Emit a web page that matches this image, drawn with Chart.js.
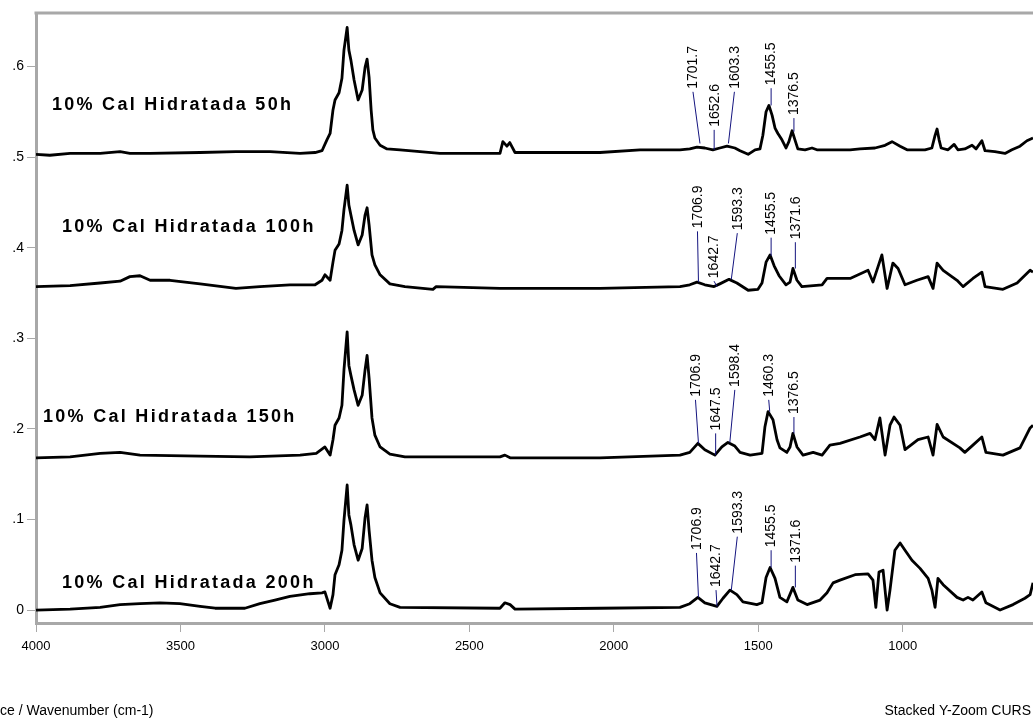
<!DOCTYPE html>
<html>
<head>
<meta charset="utf-8">
<script src="https://cdn.jsdelivr.net/npm/chart.js@4.4.1/dist/chart.umd.min.js"></script>
<style>
  html, body { margin: 0; padding: 0; background: #fff; }
  #wrap { width: 1033px; height: 727px; position: relative; }
</style>
</head>
<body>
<div id="wrap"><canvas id="c"></canvas></div>
<script>
// spectra: wavenumber (cm-1) / absorbance, stacked
const seriesNames = ['10% Cal Hidratada 50h', '10% Cal Hidratada 100h', '10% Cal Hidratada 150h', '10% Cal Hidratada 200h'];

const wn50 = [4000,3952,3882,3778,3709,3675,3605,3432,3308,3190,3086,3034,3010,2993,2982,2972,2965,2951,2941,2934,2923,2917,2910,2899,2885,2871,2861,2854,2847,2840,2834,2827,2809,2785,2740,2602,2394,2384,2370,2360,2342,2048,1909,1771,1737,1712,1685,1657,1633,1608,1581,1563,1535,1511,1494,1484,1473,1463,1452,1442,1432,1418,1404,1394,1383,1373,1363,1338,1314,1297,1182,1148,1096,1061,1037,1009,985,923,899,888,881,874,867,843,822,809,785,760,746,726,715,681,646,622,594,570,549];
const abs50 = [0.503,0.502,0.504,0.504,0.506,0.504,0.504,0.505,0.506,0.506,0.504,0.505,0.507,0.519,0.526,0.552,0.563,0.571,0.587,0.618,0.643,0.618,0.607,0.585,0.563,0.574,0.599,0.608,0.588,0.552,0.530,0.521,0.513,0.509,0.508,0.504,0.504,0.517,0.512,0.516,0.505,0.505,0.508,0.508,0.509,0.511,0.510,0.508,0.510,0.512,0.510,0.507,0.503,0.508,0.509,0.524,0.550,0.557,0.546,0.532,0.526,0.519,0.510,0.517,0.529,0.519,0.509,0.508,0.510,0.508,0.508,0.509,0.510,0.513,0.517,0.512,0.508,0.508,0.510,0.524,0.531,0.519,0.510,0.508,0.514,0.508,0.509,0.513,0.509,0.518,0.507,0.506,0.504,0.508,0.512,0.518,0.521];

const wn100 = [4000,3882,3778,3709,3675,3640,3605,3536,3432,3308,3225,3121,3034,3010,3000,2982,2972,2965,2951,2941,2934,2923,2917,2910,2899,2885,2871,2861,2854,2847,2837,2827,2809,2775,2723,2626,2615,2394,2048,1771,1737,1712,1685,1653,1633,1601,1574,1535,1501,1487,1473,1459,1445,1428,1404,1390,1380,1366,1349,1279,1262,1182,1120,1103,1072,1054,1034,1016,992,951,912,895,881,860,812,791,757,726,715,653,604,559,549];
const abs100 = [0.357,0.358,0.361,0.363,0.368,0.369,0.364,0.364,0.360,0.355,0.357,0.359,0.359,0.364,0.370,0.364,0.384,0.397,0.404,0.419,0.442,0.469,0.447,0.436,0.419,0.403,0.414,0.436,0.444,0.425,0.392,0.381,0.370,0.360,0.357,0.354,0.357,0.355,0.355,0.357,0.359,0.362,0.359,0.357,0.360,0.365,0.361,0.353,0.354,0.361,0.384,0.392,0.380,0.369,0.359,0.362,0.377,0.364,0.357,0.359,0.366,0.366,0.375,0.362,0.392,0.355,0.383,0.377,0.359,0.364,0.368,0.355,0.383,0.375,0.364,0.357,0.366,0.373,0.357,0.354,0.361,0.375,0.373];

const wn150 = [4000,3882,3778,3709,3640,3432,3260,3086,3030,3000,2982,2972,2965,2951,2941,2934,2923,2917,2910,2899,2885,2871,2861,2854,2847,2837,2827,2809,2775,2723,2394,2377,2359,2048,1771,1737,1709,1685,1650,1626,1605,1581,1563,1528,1487,1477,1466,1449,1435,1425,1401,1390,1380,1366,1345,1310,1279,1252,1217,1148,1113,1096,1079,1061,1044,1030,1009,992,947,912,895,881,860,802,785,757,726,712,653,594,559,549];
const abs150 = [0.168,0.169,0.173,0.174,0.171,0.170,0.169,0.171,0.173,0.180,0.171,0.188,0.204,0.212,0.226,0.265,0.307,0.270,0.259,0.243,0.226,0.237,0.265,0.281,0.256,0.212,0.193,0.180,0.172,0.169,0.169,0.171,0.168,0.168,0.171,0.174,0.184,0.177,0.171,0.180,0.185,0.181,0.174,0.171,0.173,0.202,0.219,0.210,0.188,0.179,0.174,0.180,0.195,0.180,0.171,0.174,0.171,0.182,0.184,0.191,0.195,0.188,0.212,0.171,0.204,0.213,0.204,0.177,0.188,0.191,0.171,0.205,0.191,0.179,0.174,0.182,0.191,0.174,0.171,0.179,0.201,0.204];

const wn200 = [4000,3882,3778,3709,3640,3571,3502,3432,3380,3277,3225,3173,3121,3052,3010,3000,2982,2972,2965,2951,2941,2934,2923,2917,2910,2899,2885,2871,2861,2854,2847,2837,2827,2809,2775,2740,2394,2377,2359,2342,2048,1771,1737,1709,1685,1643,1622,1598,1574,1553,1505,1487,1473,1459,1442,1425,1401,1380,1363,1331,1286,1262,1241,1217,1165,1120,1103,1093,1082,1068,1054,1044,1027,1009,992,968,940,912,899,888,878,860,812,791,774,757,726,712,663,618,577,559,549];
const abs200 = [0.000,0.001,0.003,0.006,0.007,0.008,0.007,0.004,0.002,0.002,0.007,0.011,0.015,0.018,0.019,0.020,0.002,0.017,0.039,0.050,0.066,0.099,0.138,0.105,0.094,0.072,0.055,0.068,0.102,0.116,0.088,0.055,0.036,0.019,0.007,0.003,0.002,0.008,0.006,0.001,0.002,0.003,0.007,0.014,0.008,0.004,0.013,0.022,0.017,0.009,0.006,0.008,0.036,0.047,0.035,0.014,0.009,0.025,0.011,0.006,0.011,0.019,0.030,0.033,0.039,0.040,0.033,0.003,0.042,0.044,0.000,0.022,0.066,0.074,0.066,0.055,0.046,0.035,0.022,0.003,0.035,0.028,0.014,0.011,0.014,0.011,0.020,0.008,0.000,0.006,0.013,0.017,0.030];

// peak labels (cm-1) and absorbance at the marked peak
const peaks50 = [1701.7, 1652.6, 1603.3, 1455.5, 1376.5];
const peakAbs50 = [0.515, 0.508, 0.515, 0.557, 0.528];
const peaks100 = [1706.9, 1642.7, 1593.3, 1455.5, 1371.6];
const peakAbs100 = [0.362, 0.357, 0.365, 0.391, 0.377];
const peaks150 = [1706.9, 1647.5, 1598.4, 1460.3, 1376.5];
const peakAbs150 = [0.184, 0.171, 0.185, 0.219, 0.195];
const peaks200 = [1706.9, 1642.7, 1593.3, 1455.5, 1371.6];
const peakAbs200 = [0.014, 0.004, 0.022, 0.047, 0.025];

const xTicks = [4000, 3500, 3000, 2500, 2000, 1500, 1000];
const yTicks = [0, 0.1, 0.2, 0.3, 0.4, 0.5, 0.6];

// label layout: pixel shift of the label from its peak, absorbance where the leader line starts
const labelShift = [[-7, 0, 6, 0, 0], [-1, -3, 6, 0, 0], [-3, 0, 5, -1, 0], [-2, -1, 6, 0, 0]];
const labelTop = [[0.572, 0.530, 0.572, 0.576, 0.543], [0.418, 0.363, 0.416, 0.411, 0.406], [0.232, 0.195, 0.243, 0.232, 0.213], [0.063, 0.022, 0.081, 0.066, 0.049]];
const namePos = [[3945, 0.552], [3910, 0.417], [3976, 0.2075], [3910, 0.0243]];

const specWn = [wn50, wn100, wn150, wn200];
const specAbs = [abs50, abs100, abs150, abs200];
const peakWn = [peaks50, peaks100, peaks150, peaks200];
const peakAbs = [peakAbs50, peakAbs100, peakAbs150, peakAbs200];

const axisGray = '#a8a8a8';

const decor = {
  id: 'decor',
  afterDraw(chart) {
    const ctx = chart.ctx, a = chart.chartArea;
    const x = chart.scales.x, y = chart.scales.y;
    ctx.save();
    // top frame line
    ctx.strokeStyle = axisGray;
    ctx.lineWidth = 3;
    ctx.beginPath();
    ctx.moveTo(a.left - 1.5, a.top);
    ctx.lineTo(a.right, a.top);
    ctx.stroke();

    // peak labels
    ctx.font = '14px "Liberation Sans", Arial, sans-serif';
    ctx.fillStyle = '#000';
    for (let s = 0; s < 4; s++) {
      peakWn[s].forEach((p, i) => {
        const px = x.getPixelForValue(p);
        const py = y.getPixelForValue(peakAbs[s][i]);
        const lx = px + labelShift[s][i];
        const ly = y.getPixelForValue(labelTop[s][i]);
        ctx.strokeStyle = '#14147f';
        ctx.lineWidth = 1;
        ctx.beginPath();
        ctx.moveTo(lx, ly);
        ctx.lineTo(px, py);
        ctx.stroke();
        ctx.save();
        ctx.translate(lx + 0.5, ly - 3);
        ctx.rotate(-Math.PI / 2);
        ctx.textAlign = 'left';
        ctx.textBaseline = 'middle';
        ctx.fillText(p.toFixed(1), 0, 0);
        ctx.restore();
      });
    }

    // sample names
    ctx.font = 'bold 18px "Liberation Sans", Arial, sans-serif';
    ctx.letterSpacing = '2.3px';
    ctx.textAlign = 'left';
    ctx.textBaseline = 'alphabetic';
    seriesNames.forEach((n, s) => {
      ctx.fillText(n, x.getPixelForValue(namePos[s][0]), y.getPixelForValue(namePos[s][1]));
    });
    ctx.letterSpacing = '0px';

    // footer
    ctx.font = '14px "Liberation Sans", Arial, sans-serif';
    ctx.fillText('ce / Wavenumber (cm-1)', 0, 715);
    ctx.textAlign = 'right';
    ctx.fillText('Stacked Y-Zoom CURS', 1031, 715);
    ctx.restore();
  }
};

new Chart(document.getElementById('c'), {
  type: 'line',
  data: {
    datasets: specWn.map((w, s) => ({
      label: seriesNames[s],
      data: w.map((v, i) => ({ x: v, y: specAbs[s][i] })),
      borderColor: '#000',
      borderWidth: 2.8,
      borderJoinStyle: 'round',
      pointRadius: 0,
      tension: 0,
      fill: false
    }))
  },
  options: {
    responsive: true,
    maintainAspectRatio: false,
    animation: false,
    layout: { padding: { top: 13, left: 0, right: 0, bottom: 0 } },
    plugins: { legend: { display: false }, tooltip: { enabled: false } },
    scales: {
      x: {
        type: 'linear',
        reverse: true,
        min: 549,
        max: 4000,
        afterBuildTicks: sc => { sc.ticks = xTicks.map(v => ({ value: v })); },
        afterFit: sc => { sc.height = 104; },
        border: { color: axisGray, width: 3 },
        grid: { drawOnChartArea: false, tickLength: 9, color: axisGray, lineWidth: 1 },
        ticks: {
          color: '#000',
          padding: 7,
          maxRotation: 0,
          font: { family: '"Liberation Sans Narrow", "Arial Narrow", "Liberation Sans", Arial', size: 13 },
          callback: v => String(v)
        }
      },
      y: {
        type: 'linear',
        min: -0.0143,
        max: 0.659,
        afterBuildTicks: sc => { sc.ticks = yTicks.map(v => ({ value: v })); },
        afterFit: sc => { sc.width = 36; },
        border: { color: axisGray, width: 3 },
        grid: { drawOnChartArea: false, tickLength: 9, color: axisGray, lineWidth: 1 },
        ticks: {
          color: '#000',
          padding: 3,
          font: { family: '"Liberation Sans", Arial', size: 14 },
          callback: v => v === 0 ? '0' : '.' + Math.round(v * 10)
        }
      }
    }
  },
  plugins: [decor]
});
</script>
</body>
</html>
